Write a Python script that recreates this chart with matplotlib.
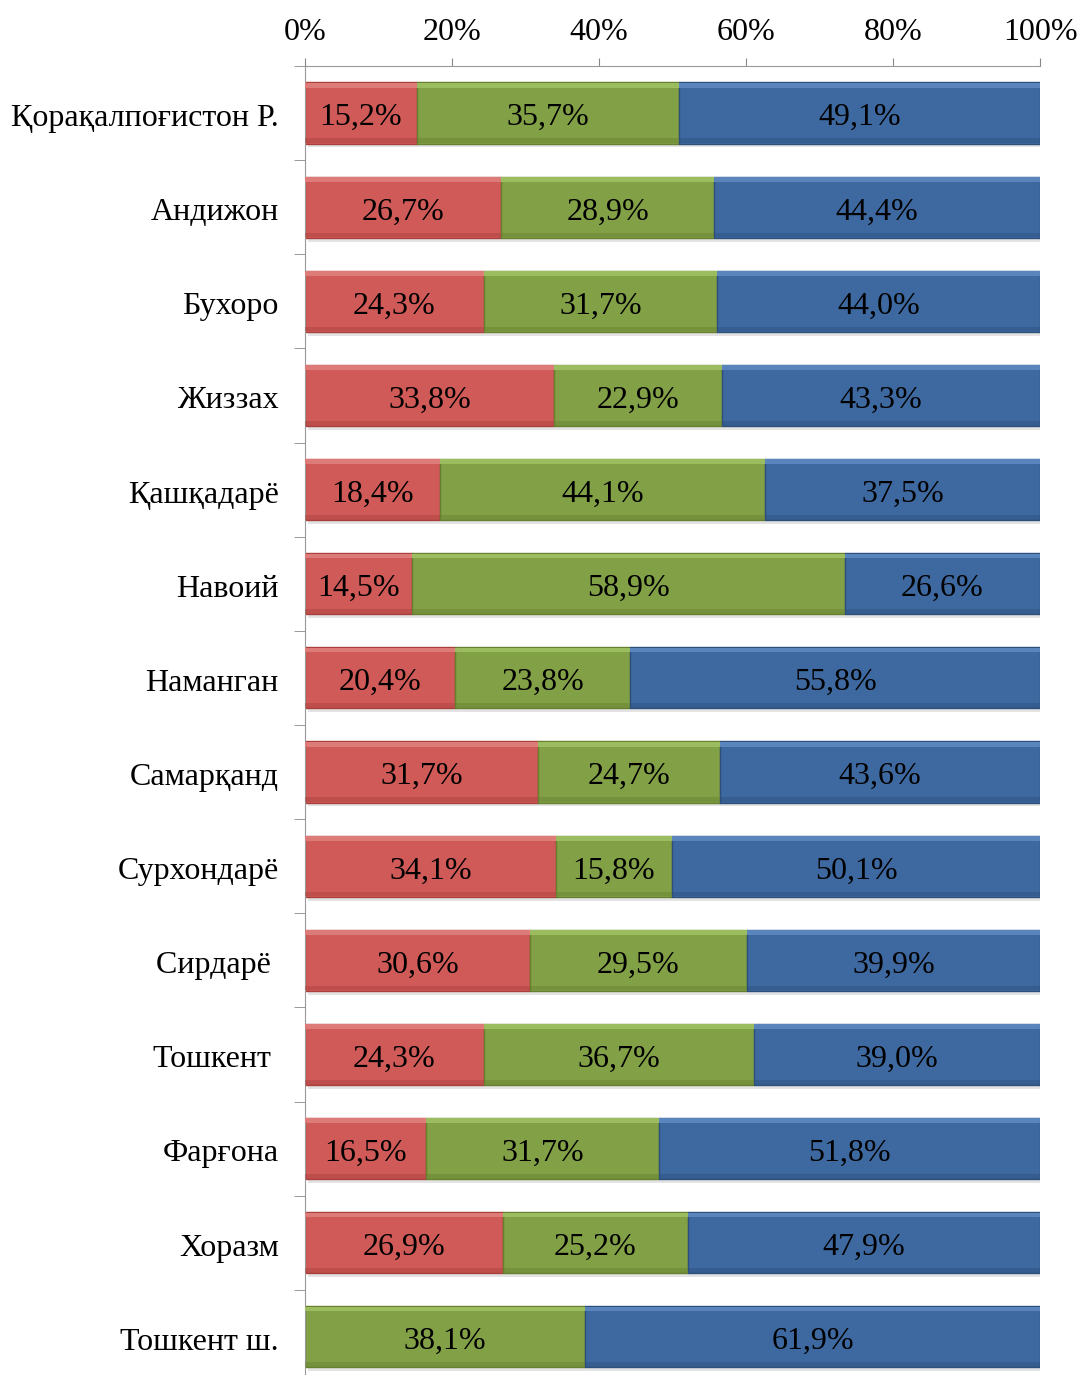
import matplotlib.pyplot as plt
import numpy as np
from matplotlib.ticker import FuncFormatter

regions = ['Қорақалпоғистон Р.', 'Андижон', 'Бухоро', 'Жиззах', 'Қашқадарё', 'Навоий',
           'Наманган', 'Самарқанд', 'Сурхондарё', 'Сирдарё ', 'Тошкент ', 'Фарғона',
           'Хоразм', 'Тошкент ш.']
red_vals = [15.2, 26.7, 24.3, 33.8, 18.4, 14.5, 20.4, 31.7, 34.1, 30.6, 24.3, 16.5, 26.9, 0.0]
green_vals = [35.7, 28.9, 31.7, 22.9, 44.1, 58.9, 23.8, 24.7, 15.8, 29.5, 36.7, 31.7, 25.2, 38.1]
blue_vals = [49.1, 44.4, 44.0, 43.3, 37.5, 26.6, 55.8, 43.6, 50.1, 39.9, 39.0, 51.8, 47.9, 61.9]

plt.rcParams['font.family'] = ['Liberation Serif', 'DejaVu Serif']

fig = plt.figure(figsize=(10.78, 13.75), dpi=100)
ax = fig.add_axes([0.283, -0.0065, 0.682, 0.9585])

y = np.arange(len(regions))
h = 0.65
series = [(red_vals, '#D05A57', '#DD7B78', '#A9403D'),
          (green_vals, '#82A046', '#9CBC60', '#66802F'),
          (blue_vals, '#3E69A0', '#5A85BC', '#2C4F7C')]

# shadow under each bar
totals = np.array(red_vals) + np.array(green_vals) + np.array(blue_vals)
ax.barh(y + 0.04, totals, height=h, left=0.4, color='#C8C8C8', alpha=0.5, zorder=1)

left = np.zeros(len(regions))
for vals, col, light, dark in series:
    vals = np.array(vals)
    ax.barh(y, vals, height=h, left=left, color=col, edgecolor=dark, linewidth=1, zorder=2)
    # soft bevel at top and bottom edges
    ax.barh(y - h / 2 + 0.03, vals, height=0.05, left=left, color=light, linewidth=0, zorder=3)
    ax.barh(y + h / 2 - 0.03, vals, height=0.05, left=left, color=dark, alpha=0.45, linewidth=0, zorder=3)
    for i, v in enumerate(vals):
        if v > 0:
            ax.text(left[i] + v / 2, y[i] + 0.05, f'{v:.1f}%'.replace('.', ','),
                    ha='center', va='center', fontsize=23, color='black', zorder=4)
    left += vals

ax.set_xlim(0, 100)
ax.set_ylim(len(regions) - 0.5, -0.5)
ax.xaxis.tick_top()
ax.set_xticks(range(0, 101, 20))
ax.xaxis.set_major_formatter(FuncFormatter(lambda v, p: f'{v:.0f}%'))
ax.set_yticks(y + 0.02)
ax.set_yticklabels(regions)
ax.set_yticks(np.arange(len(regions) + 1) - 0.5, minor=True)
ax.tick_params(axis='y', which='major', length=0, pad=19, labelsize=23)
ax.tick_params(axis='y', which='minor', length=8, color='#888888')
ax.tick_params(axis='x', length=6, color='#888888', pad=8, labelsize=23)
for s in ['right', 'bottom']:
    ax.spines[s].set_visible(False)
for s in ['top', 'left']:
    ax.spines[s].set_color('#999999')

fig.savefig('out.png', dpi=100)
